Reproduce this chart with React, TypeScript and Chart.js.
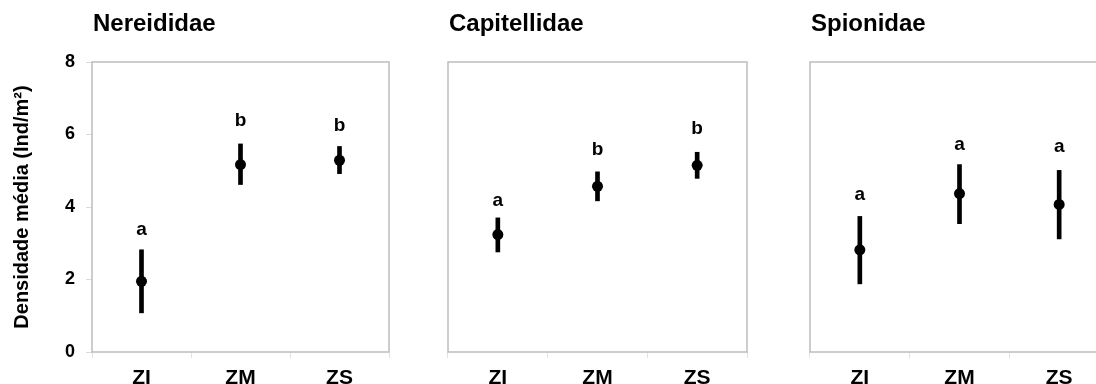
import React, { useEffect, useRef } from "react";
import { Chart, registerables } from "chart.js";

Chart.register(...registerables);

const categories = ["ZI", "ZM", "ZS"];

const titles = ["Nereididae", "Capitellidae", "Spionidae"];

const nereMean = [1.95, 5.17, 5.29];
const nereLow = [1.08, 4.62, 4.92];
const nereHigh = [2.82, 5.74, 5.67];
const nereLetters = ["a", "b", "b"];
const nereLetterPos = [3.37, 6.39, 6.24];

const capiMean = [3.24, 4.57, 5.15];
const capiLow = [2.76, 4.17, 4.79];
const capiHigh = [3.7, 4.97, 5.51];
const capiLetters = ["a", "b", "b"];
const capiLetterPos = [4.17, 5.58, 6.15];

const spioMean = [2.82, 4.37, 4.07];
const spioLow = [1.88, 3.54, 3.12];
const spioHigh = [3.74, 5.17, 5.01];
const spioLetters = ["a", "a", "a"];
const spioLetterPos = [4.34, 5.72, 5.67];

const yTicks = [0, 2, 4, 6, 8];
const yTitle = "Densidade média (Ind/m²)";

const FONT = "'Liberation Sans', Arial, sans-serif";

type Panel = {
  title: string;
  mean: number[];
  low: number[];
  high: number[];
  letters: string[];
  letterPos: number[];
  left: number;
  width: number;
  padLeft: number;
  padRight: number;
  showY: boolean;
};

const panels: Panel[] = [
  { title: titles[0], mean: nereMean, low: nereLow, high: nereHigh, letters: nereLetters, letterPos: nereLetterPos, left: 0, width: 400, padLeft: 0, padRight: 11, showY: true },
  { title: titles[1], mean: capiMean, low: capiLow, high: capiHigh, letters: capiLetters, letterPos: capiLetterPos, left: 400, width: 360, padLeft: 48, padRight: 13, showY: false },
  { title: titles[2], mean: spioMean, low: spioLow, high: spioHigh, letters: spioLetters, letterPos: spioLetterPos, left: 760, width: 360, padLeft: 50, padRight: 11, showY: false },
];

function PanelChart({ p }: { p: Panel }) {
  const ref = useRef<HTMLCanvasElement | null>(null);
  useEffect(() => {
    if (!ref.current) return;
    const decor = {
      id: "decor",
      afterDraw(chart: any) {
        const { ctx, chartArea, scales } = chart;
        ctx.save();
        ctx.strokeStyle = "#bdbdbd";
        ctx.lineWidth = 1.5;
        ctx.strokeRect(chartArea.left, chartArea.top, chartArea.right - chartArea.left, chartArea.bottom - chartArea.top);
        ctx.fillStyle = "#000";
        ctx.font = `bold 24px ${FONT}`;
        ctx.textAlign = "left";
        ctx.textBaseline = "middle";
        ctx.fillText(p.title, chartArea.left + 1, 24);
        ctx.font = `bold 19px ${FONT}`;
        ctx.textAlign = "center";
        p.letters.forEach((l, i) => {
          const x = scales.x.getPixelForValue(i);
          const y = scales.y.getPixelForValue(p.letterPos[i]);
          ctx.fillText(l, x, y);
        });
        ctx.restore();
      },
    };
    const chart = new Chart(ref.current, {
      type: "bar",
      data: {
        labels: categories,
        datasets: [
          {
            type: "bar",
            data: p.low.map((lo, i) => [lo, p.high[i]]) as any,
            backgroundColor: "#000",
            borderWidth: 0,
            barThickness: 4,
            grouped: false,
          } as any,
          {
            type: "line",
            data: p.mean,
            showLine: false,
            pointRadius: 5.5,
            pointBackgroundColor: "#000",
            pointBorderColor: "#000",
            pointBorderWidth: 0,
          } as any,
        ],
      },
      options: {
        animation: false,
        responsive: false,
        events: [],
        layout: { padding: { top: 62, left: p.padLeft, right: p.padRight, bottom: 0 } },
        plugins: { legend: { display: false }, tooltip: { enabled: false }, title: { display: false } },
        scales: {
          x: {
            type: "category",
            offset: true,
            grid: { offset: true, drawOnChartArea: false, tickLength: 6, color: "#e3e3e3", lineWidth: 1 },
            border: { display: false },
            ticks: { color: "#000", font: { family: FONT, weight: "bold", size: 21 }, padding: 8 },
            afterFit: (s: any) => { s.height = 32; },
          },
          y: {
            display: p.showY,
            min: 0,
            max: 8,
            afterBuildTicks: (s: any) => { s.ticks = yTicks.map((v) => ({ value: v })); },
            grid: { drawOnChartArea: false, tickLength: 6, color: "#d9d9d9" },
            border: { display: false },
            ticks: { color: "#000", font: { family: FONT, weight: "bold", size: 18 }, padding: 11 },
            title: { display: true, text: yTitle, color: "#000", font: { family: FONT, weight: "bold", size: 20 }, padding: { top: 10, bottom: 0 } },
            afterFit: (s: any) => { if (p.showY) s.width = 92; },
          },
        },
      } as any,
      plugins: [decor],
    });
    return () => chart.destroy();
  }, [p]);
  return (
    <canvas
      ref={ref}
      width={p.width}
      height={384}
      style={{ position: "absolute", left: p.left, top: 0, width: p.width, height: 384 }}
    />
  );
}

export default function App() {
  return (
    <div style={{ position: "fixed", left: 0, top: 0, width: 1096, height: 384, overflow: "hidden", background: "#fff" }}>
      {panels.map((p, i) => (
        <PanelChart key={i} p={p} />
      ))}
    </div>
  );
}
